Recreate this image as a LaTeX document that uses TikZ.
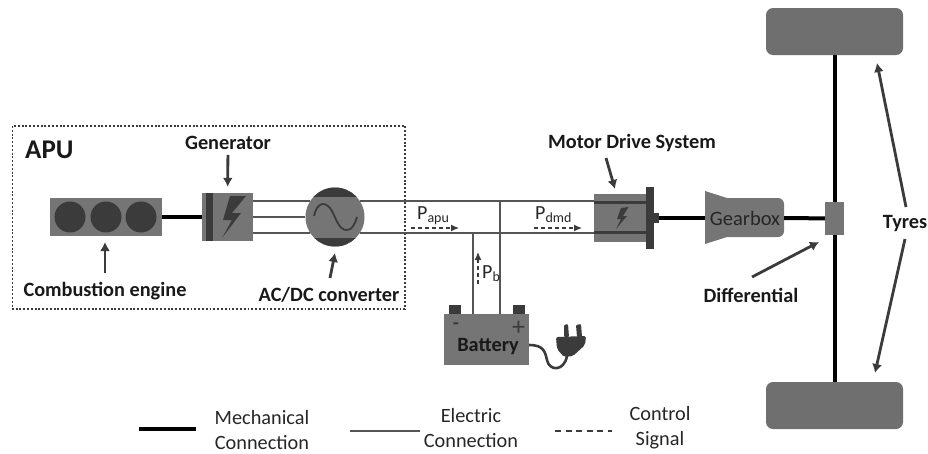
\documentclass[tikz,border=0pt]{standalone}
\usepackage{fontspec}
\setmainfont{Carlito}
\usetikzlibrary{shapes, arrows.meta}

\definecolor{partgray}{HTML}{757575}
\definecolor{darkgray}{HTML}{3B3B3B}
\definecolor{wiregray}{HTML}{555555}

\tikzset{
  part/.style={rectangle, fill=partgray, inner sep=0pt},
  tyre/.style={part, fill=partgray!95!black, rounded corners=7pt, minimum width=137pt, minimum height=47pt},
  mechline/.style={black, line width=4pt},
  wire/.style={wiregray, line width=1.6pt},
  signal/.style={dash pattern=on 4pt off 3pt, darkgray, line width=1.2pt},
  signalarrow/.style={signal, -{Latex[length=8pt, width=7pt]}},
  pointer/.style={darkgray, line width=2.8pt, -{Latex[length=9pt, width=10pt]}},
  bigtext/.style={font=\bfseries\fontsize{20.3}{20.3}\selectfont, text=black!90, inner sep=0pt},
  plaintext/.style={font=\fontsize{20.3}{25}\selectfont, text=black!85, inner sep=0pt, align=center},
  powertext/.style={font=\fontsize{20}{20}\selectfont, text=black!85, inner sep=0pt, anchor=base west}
}

\begin{document}
\begin{tikzpicture}[x=1pt, y=-1pt]
    \useasboundingbox (0, 0) rectangle (928, 453);

    %APU
    \draw[darkgray, line width=1.9pt, dash pattern=on 1.9pt off 1.9pt] (12.5, 126) rectangle (405, 309);
    \node[bigtext, font=\bfseries\fontsize{27}{27}\selectfont, anchor=west] (apulabel) at (25, 150) {APU};

    %engine
    \node[part, minimum width=112pt, minimum height=38pt] (engine) at (106, 217) {};
    \foreach \x in {70, 106, 141}
      \fill[darkgray] (\x, 217) circle (15.5);
    \node[bigtext] (enginelabel) at (105, 291) {Combustion engine};
    \coordinate (enginetip) at (105, 242);
    \draw[pointer] (105, 273) -- (enginetip);

    %generator
    \node[part, minimum width=51pt, minimum height=48pt] (generator) at (227.5, 217) {};
    \fill[darkgray] (206, 193) rectangle (213, 241);
    \fill[darkgray] (246, 196) -- (230, 196) -- (223, 220) -- (232, 220) -- (222, 238) -- (241, 213) -- (232, 213) -- cycle;
    \node[bigtext] (generatorlabel) at (228, 143) {Generator};
    \draw[pointer, shorten <=5pt, shorten >=6pt] (generatorlabel) -- (generator);
    \draw[mechline] (engine) -- (generator);

    %converter
    \node[circle, fill=partgray, inner sep=0pt, minimum size=59pt] (converter) at (335, 217) {};
    \begin{scope}
      \clip (335, 217) circle (29.5);
      \fill[darkgray] (300, 180) rectangle (370, 197);
      \fill[darkgray] (300, 238) rectangle (370, 250);
    \end{scope}
    \draw[darkgray, line width=1.8pt] (314, 216) .. controls (317, 203) and (324, 201) .. (330, 208) .. controls (335, 214) and (338, 231) .. (347, 230) .. controls (352, 230) and (355, 224) .. (357, 217);
    \node[bigtext] (converterlabel) at (329, 295) {AC/DC converter};
    \coordinate (convertertip) at (335, 253);
    \draw[pointer] (330, 278) -- (convertertip);

    \draw[wire] (generator.east |- converter.147) -- (converter.147);
    \draw[wire] (generator) -- (converter);
    \draw[wire] (generator.east |- converter.213) -- (converter.213);

    %motor
    \node[part, minimum width=52pt, minimum height=48pt] (motor) at (620, 218) {};
    \node[part, fill=darkgray, minimum width=8pt, minimum height=62pt] (flange) at (650, 218) {};
    \node[part, fill=darkgray, minimum width=5pt, minimum height=10pt] (nub) at (656.5, 218) {};
    \fill[darkgray] (594, 200.5) rectangle (646, 204);
    \fill[darkgray] (594, 230.5) rectangle (646, 234);
    \fill[darkgray] (628.5, 207) -- (621, 208) -- (617, 219) -- (621, 219) -- (616, 229) -- (627, 216) -- (623, 216) -- cycle;
    \node[bigtext] (motorlabel) at (632, 143) {Motor Drive System};
    \coordinate (motortip) at (615, 189);
    \draw[pointer] (606, 158) -- (motortip);

    \draw[wire] (converter.33) -- (converter.33 -| motor.west);
    \draw[wire] (converter.-33) -- (converter.-33 -| motor.west);

    %battery
    \node[part, minimum width=85pt, minimum height=51pt] (battery) at (486.5, 339.5) {};
    \fill[darkgray] (449, 305) rectangle (461, 314);
    \fill[darkgray] (513, 305) rectangle (525, 314);
    \node[text=darkgray, inner sep=0pt, font=\bfseries\fontsize{20}{20}\selectfont] (minus) at (456, 326) {-};
    \node[text=darkgray, inner sep=0pt, font=\fontsize{26}{26}\selectfont] (plus) at (518.5, 328) {+};
    \node[bigtext] (batterylabel) at (488, 347) {Battery};
    \draw[darkgray, line width=2.6pt] (529, 345) .. controls (544, 345) and (545, 352) .. (547, 360) .. controls (549, 371) and (564, 372) .. (567, 356);
    \fill[darkgray, rounded corners=2pt] (556, 337) -- (586, 336) -- (585, 345) -- (573, 356) -- (564, 357) -- (557, 349) -- cycle;
    \fill[darkgray, rounded corners=1pt] (564, 325) -- (568, 324) -- (569, 337) -- (564, 337) -- cycle;
    \fill[darkgray, rounded corners=1pt] (576, 325) -- (581, 324) -- (582, 337) -- (577, 337) -- cycle;

    \coordinate (jointtop) at (500, 201);
    \coordinate (jointbottom) at (473, 233);
    \draw[wire] (jointtop) -- (jointtop |- battery.north);
    \draw[wire] (jointbottom) -- (jointbottom |- battery.north);

    %power flows
    \node[powertext] (papu) at (417, 219) {P\textsubscript{apu}};
    \node[powertext] (pdmd) at (535, 219) {P\textsubscript{dmd}};
    \node[powertext] (pb) at (482, 278) {P\textsubscript{b}};
    \coordinate (papustart) at (411, 228);
    \coordinate (papuend) at (459, 228);
    \coordinate (pdmdstart) at (534, 228);
    \coordinate (pdmdend) at (582, 228);
    \coordinate (pbstart) at (478, 284);
    \coordinate (pbend) at (478, 252);
    \draw[signalarrow] (papustart) -- (papuend);
    \draw[signalarrow] (pdmdstart) -- (pdmdend);
    \draw[signalarrow] (pbstart) -- (pbend);

    %gearbox
    \fill[partgray, rounded corners=6pt] (705, 191) [sharp corners] -- (727, 198) [rounded corners=6pt] -- (784, 198) -- (784, 237) [sharp corners] -- (727, 237) -- (705, 244) -- cycle;
    \node[inner sep=0pt, text=black!85, font=\fontsize{20.5}{20.5}\selectfont] (gearbox) at (745, 218) {Gearbox};
    \coordinate (gearboxin) at (705, 218);
    \coordinate (gearboxout) at (784, 218);
    \draw[mechline] (nub) -- (gearboxin);

    %axle and tyres
    \node[tyre] (tyretop) at (834.5, 31.5) {};
    \node[tyre] (tyrebottom) at (834.5, 405.5) {};
    \node[part, minimum width=19pt, minimum height=33pt] (differential) at (834.5, 218.5) {};
    \draw[mechline] (gearboxout) -- (differential);
    \draw[mechline] (tyretop) -- (differential);
    \draw[mechline] (differential) -- (tyrebottom);

    \node[bigtext] (difflabel) at (751, 295) {Differential};
    \coordinate (difftip) at (819, 242);
    \draw[pointer] (752, 277) -- (difftip);

    \node[bigtext] (tyreslabel) at (905, 224) {Tyres};
    \coordinate (tyretoptip) at (877, 63);
    \coordinate (tyrebottomtip) at (875, 373);
    \draw[pointer] (906, 207) -- (tyretoptip);
    \draw[pointer] (905, 239) -- (tyrebottomtip);

    %legend
    \coordinate (mechstart) at (139, 429);
    \coordinate (mechend) at (196, 429);
    \coordinate (wirestart) at (350, 431);
    \coordinate (wireend) at (420, 431);
    \coordinate (signalstart) at (555, 431);
    \coordinate (signalend) at (612, 431);
    \draw[mechline] (mechstart) -- (mechend);
    \draw[wire] (wirestart) -- (wireend);
    \draw[signal, dash pattern=on 6pt off 4.5pt] (signalstart) -- (signalend);
    \node[plaintext] (mechlabel) at (262, 430) {Mechanical\\Connection};
    \node[plaintext] (wirelabel) at (471, 428) {Electric\\Connection};
    \node[plaintext] (signallabel) at (660, 428) {Control\\Signal};

  \end{tikzpicture}
\end{document}
